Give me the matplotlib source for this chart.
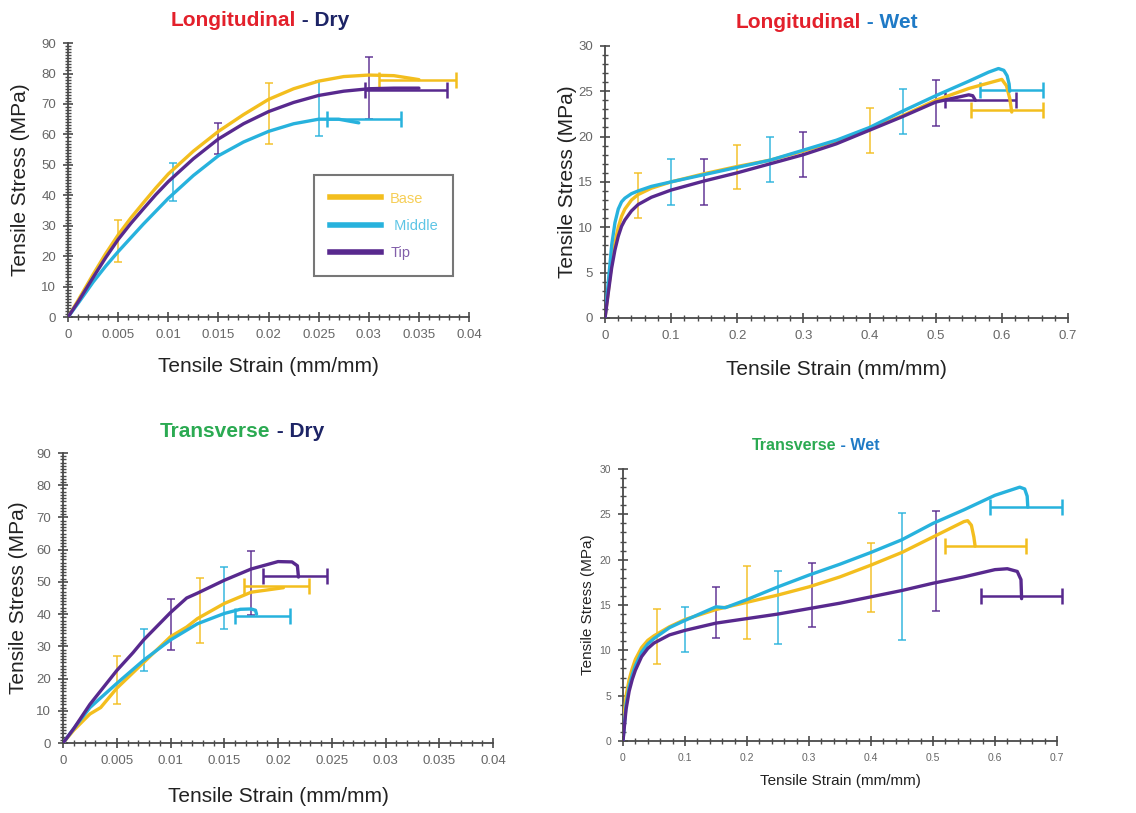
import numpy as np
import matplotlib
matplotlib.use('Agg')
import matplotlib.pyplot as plt
from matplotlib.ticker import MultipleLocator

plt.rcParams['font.family'] = ['Liberation Sans', 'DejaVu Sans']

YELLOW = '#F3BE1E'
CYAN = '#27B2DD'
PURPLE = '#58298E'
RED = '#E3202B'
NAVY = '#1D2466'
GREEN = '#2BAA52'
BLUE = '#1F7AC6'
AXCOL = '#4a4a4a'

series_names = ['Base', ' Middle', 'Tip']
series_colors = [YELLOW, CYAN, PURPLE]

# ---- Longitudinal - Dry ----
ld_base_x = [0, 0.001, 0.0025, 0.00375, 0.005, 0.00625, 0.0075, 0.00875, 0.01, 0.0125, 0.015, 0.0175, 0.02, 0.0225, 0.025, 0.0275, 0.03, 0.0325, 0.035]
ld_base_y = [0, 5.5, 14, 20.8, 27, 32.5, 37.5, 42.4, 47, 54.5, 61, 66.5, 71.5, 75, 77.5, 79, 79.5, 79.3, 78]
ld_mid_x = [0, 0.001, 0.0025, 0.00375, 0.005, 0.0075, 0.01, 0.0125, 0.015, 0.0175, 0.02, 0.0225, 0.025, 0.027, 0.029]
ld_mid_y = [0, 4.5, 11.5, 16.7, 21.5, 30.5, 39, 46.5, 53, 57.5, 61, 63.5, 65, 65, 63.8]
ld_tip_x = [0, 0.001, 0.0025, 0.00375, 0.005, 0.00625, 0.0075, 0.00875, 0.01, 0.0125, 0.015, 0.0175, 0.02, 0.0225, 0.025, 0.0275, 0.03, 0.0325, 0.035]
ld_tip_y = [0, 5, 13, 19.5, 25.5, 30.7, 35.5, 40.2, 44.5, 52, 58.5, 63.5, 67.5, 70.5, 72.8, 74.2, 75, 75.2, 75.2]
ld_vbars = [[(0.005, 18, 32), (0.02, 57, 77)],
            [(0.0105, 38, 50.5), (0.025, 59.5, 77.5)],
            [(0.015, 53.5, 63.8), (0.03, 65, 85.3)]]
ld_hbars = [(78, 0.0310, 0.0387), (65, 0.0258, 0.0332), (74.5, 0.0296, 0.0378)]

# ---- Longitudinal - Wet ----
lw_base_x = [0, 0.005, 0.01, 0.015, 0.02, 0.025, 0.03, 0.04, 0.05, 0.07, 0.1, 0.15, 0.2, 0.25, 0.3, 0.35, 0.4, 0.45, 0.5, 0.55, 0.58, 0.6, 0.607, 0.612, 0.615]
lw_base_y = [0, 3, 6, 8.3, 10, 11.2, 12, 13, 13.6, 14.3, 15, 15.9, 16.7, 17.4, 18.4, 19.5, 20.8, 22.3, 24, 25.3, 25.9, 26.3, 25.6, 24.2, 22.7]
lw_mid_x = [0, 0.005, 0.01, 0.015, 0.02, 0.025, 0.03, 0.04, 0.05, 0.07, 0.1, 0.15, 0.2, 0.25, 0.3, 0.35, 0.4, 0.45, 0.5, 0.55, 0.58, 0.595, 0.603, 0.608, 0.611, 0.612]
lw_mid_y = [0, 4, 8, 10.5, 12, 12.8, 13.2, 13.7, 14, 14.5, 15, 15.8, 16.6, 17.4, 18.5, 19.6, 21, 22.8, 24.5, 26.1, 27.1, 27.5, 27.3, 26.7, 25.8, 25]
lw_tip_x = [0, 0.005, 0.01, 0.015, 0.02, 0.025, 0.03, 0.04, 0.05, 0.07, 0.1, 0.15, 0.2, 0.25, 0.3, 0.35, 0.4, 0.45, 0.5, 0.55, 0.556, 0.56]
lw_tip_y = [0, 2.8, 5.5, 7.5, 9, 10.1, 10.8, 11.8, 12.5, 13.3, 14.1, 15.1, 16, 17, 18, 19.2, 20.7, 22.2, 23.8, 24.6, 24.5, 24]
lw_vbars = [[(0.05, 11, 16), (0.2, 14.2, 19.1), (0.4, 18.2, 23.2)],
            [(0.1, 12.4, 17.5), (0.25, 15, 19.9), (0.45, 20.3, 25.2)],
            [(0.15, 12.5, 17.5), (0.3, 15.5, 20.5), (0.5, 21.2, 26.2)]]
lw_hbars = [(22.9, 0.554, 0.662), (25.1, 0.567, 0.663), (24.0, 0.514, 0.622)]

# ---- Transverse - Dry ----
td_base_x = [0, 0.001, 0.0025, 0.0035, 0.005, 0.0075, 0.01, 0.0115, 0.0125, 0.015, 0.0175, 0.0205]
td_base_y = [0, 4, 9, 11, 17, 25, 33, 36, 38.6, 43.3, 46.8, 48.2]
td_mid_x = [0, 0.001, 0.0025, 0.005, 0.0075, 0.01, 0.0125, 0.015, 0.0165, 0.0175, 0.0179, 0.018]
td_mid_y = [0, 4.5, 11, 18.5, 25.7, 32, 37, 40.2, 41.5, 41.6, 41.2, 40]
td_tip_x = [0, 0.001, 0.0025, 0.005, 0.0065, 0.0075, 0.01, 0.0115, 0.0125, 0.015, 0.0175, 0.02, 0.0213, 0.0218, 0.0219]
td_tip_y = [0, 4.5, 12, 22.5, 28, 32, 40.5, 45, 46.5, 50.5, 54, 56.3, 56.2, 55, 51.5]
td_vbars = [[(0.005, 12, 27), (0.0127, 31, 51.2)],
            [(0.0075, 22.3, 35.3), (0.015, 35.5, 54.5)],
            [(0.01, 29, 44.7), (0.0175, 39.7, 59.7)]]
td_hbars = [(48.8, 0.0168, 0.0229), (39.3, 0.0160, 0.0211), (51.7, 0.0186, 0.0246)]

# ---- Transverse - Wet ----
tw_base_x = [0, 0.005, 0.01, 0.015, 0.02, 0.03, 0.04, 0.05, 0.075, 0.1, 0.15, 0.2, 0.25, 0.3, 0.35, 0.4, 0.45, 0.5, 0.55, 0.556, 0.562, 0.566, 0.568]
tw_base_y = [1.5, 5, 6.8, 8, 9, 10.3, 11.1, 11.6, 12.6, 13.4, 14.5, 15.3, 16.1, 17, 18.1, 19.4, 20.8, 22.5, 24.2, 24.3, 23.8, 22.5, 21.5]
tw_mid_x = [0, 0.005, 0.01, 0.015, 0.02, 0.03, 0.04, 0.05, 0.075, 0.1, 0.15, 0.165, 0.2, 0.25, 0.3, 0.35, 0.4, 0.45, 0.5, 0.55, 0.6, 0.64, 0.648, 0.652, 0.653]
tw_mid_y = [0, 4, 6, 7.3, 8.3, 9.8, 10.7, 11.3, 12.5, 13.3, 14.8, 14.7, 15.6, 17, 18.3, 19.5, 20.8, 22.2, 24, 25.5, 27.1, 28, 27.8, 27, 25.8]
tw_tip_x = [0, 0.005, 0.01, 0.015, 0.02, 0.03, 0.04, 0.05, 0.075, 0.1, 0.15, 0.2, 0.25, 0.3, 0.35, 0.4, 0.45, 0.5, 0.55, 0.6, 0.62, 0.636, 0.642, 0.643]
tw_tip_y = [0, 3.5, 5.5, 6.8, 7.8, 9.3, 10.2, 10.8, 11.7, 12.2, 13, 13.5, 14, 14.6, 15.2, 15.9, 16.6, 17.4, 18.1, 18.9, 19, 18.7, 17.8, 15.7]
tw_vbars = [[(0.055, 8.5, 14.6), (0.2, 11.2, 19.3), (0.4, 14.2, 21.8)],
            [(0.1, 9.8, 14.8), (0.25, 10.7, 18.8), (0.45, 11.1, 25.2)],
            [(0.15, 11.4, 17), (0.305, 12.6, 19.6), (0.505, 14.3, 25.4)]]
tw_hbars = [(21.5, 0.520, 0.650), (25.8, 0.592, 0.708), (16.0, 0.577, 0.708)]

strain_ticks_dry = [0, 0.005, 0.01, 0.015, 0.02, 0.025, 0.03, 0.035, 0.04]
strain_labels_dry = ['0', '0.005', '0.01', '0.015', '0.02', '0.025', '0.03', '0.035', '0.04']
strain_ticks_wet = [0, 0.1, 0.2, 0.3, 0.4, 0.5, 0.6, 0.7]
strain_labels_wet = ['0', '0.1', '0.2', '0.3', '0.4', '0.5', '0.6', '0.7']
stress_ticks_dry = [0, 10, 20, 30, 40, 50, 60, 70, 80, 90]
stress_ticks_wet = [0, 5, 10, 15, 20, 25, 30]

panels = [
    dict(rect=[0.0599, 0.610, 0.353, 0.337], curves=[(ld_base_x, ld_base_y), (ld_mid_x, ld_mid_y), (ld_tip_x, ld_tip_y)],
         vbars=ld_vbars, hbars=ld_hbars, xt=strain_ticks_dry, xl=strain_labels_dry, yt=stress_ticks_dry,
         xminor=0.001, yminor=1, title=('Longitudinal', RED, ' - Dry', NAVY), tpos=(260, 20), tsize=15,
         lsize=15, ticksize=9.5, xlc=-0.146, ylc=-0.095),
    dict(rect=[0.5326, 0.609, 0.4075, 0.3346], curves=[(lw_base_x, lw_base_y), (lw_mid_x, lw_mid_y), (lw_tip_x, lw_tip_y)],
         vbars=lw_vbars, hbars=lw_hbars, xt=strain_ticks_wet, xl=strain_labels_wet, yt=stress_ticks_wet,
         xminor=0.02, yminor=1, title=('Longitudinal', RED, ' - Wet', BLUE), tpos=(827, 22), tsize=15,
         lsize=15, ticksize=9.5, xlc=-0.154, ylc=-0.06),
    dict(rect=[0.0555, 0.0861, 0.3785, 0.3567], curves=[(td_base_x, td_base_y), (td_mid_x, td_mid_y), (td_tip_x, td_tip_y)],
         vbars=td_vbars, hbars=td_hbars, xt=strain_ticks_dry, xl=strain_labels_dry, yt=stress_ticks_dry,
         xminor=0.001, yminor=1, title=('Transverse', GREEN, ' - Dry', NAVY), tpos=(242, 431), tsize=15,
         lsize=15, ticksize=9.5, xlc=-0.152, ylc=-0.081),
    dict(rect=[0.5484, 0.0886, 0.382, 0.3345], curves=[(tw_base_x, tw_base_y), (tw_mid_x, tw_mid_y), (tw_tip_x, tw_tip_y)],
         vbars=tw_vbars, hbars=tw_hbars, xt=strain_ticks_wet, xl=strain_labels_wet, yt=stress_ticks_wet,
         xminor=0.02, yminor=1, title=('Transverse', GREEN, ' - Wet', BLUE), tpos=(816, 445), tsize=11.5,
         lsize=11, ticksize=7.5, xlc=-0.121, ylc=-0.065),
]

W, H = 1136, 813
fig = plt.figure(figsize=(W / 100, H / 100), dpi=100)
renderer = fig.canvas.get_renderer()


def two_tone_title(px, py, left, lcol, right, rcol, size):
    t1 = fig.text(0, 0, left, color=lcol, fontsize=size, fontweight='bold', va='center')
    t2 = fig.text(0, 0, right, color=rcol, fontsize=size, fontweight='bold', va='center')
    w1 = t1.get_window_extent(renderer).width
    w2 = t2.get_window_extent(renderer).width
    x0 = px - (w1 + w2) / 2
    y = 1 - py / H
    t1.set_position((x0 / W, y))
    t2.set_position(((x0 + w1) / W, y))


def unclip(container):
    for art in container.get_children():
        art.set_clip_on(False)


axes = []
for p in panels:
    ax = fig.add_axes(p['rect'])
    axes.append(ax)
    for (x, y), c in zip(p['curves'], series_colors):
        ax.plot(x, y, color=c, lw=2.4, solid_capstyle='round', solid_joinstyle='round', zorder=3)
    for bars, c in zip(p['vbars'], series_colors):
        bx = [b[0] for b in bars]
        lo = np.array([b[1] for b in bars])
        hi = np.array([b[2] for b in bars])
        eb = ax.errorbar(bx, (lo + hi) / 2, yerr=(hi - lo) / 2, fmt='none', ecolor=c,
                         elinewidth=1.2, capsize=3, capthick=1.2, alpha=0.85, zorder=2)
        unclip(eb)
    for (hy, xlo, xhi), c in zip(p['hbars'], series_colors):
        eb = ax.errorbar([(xlo + xhi) / 2], [hy], xerr=[(xhi - xlo) / 2], fmt='none', ecolor=c,
                         elinewidth=1.8, capsize=6, capthick=1.8, zorder=2)
        unclip(eb)
    ax.set_xlim(p['xt'][0], p['xt'][-1])
    ax.set_ylim(p['yt'][0], p['yt'][-1])
    ax.set_xticks(p['xt'])
    ax.set_xticklabels(p['xl'])
    ax.set_yticks(p['yt'])
    ax.xaxis.set_minor_locator(MultipleLocator(p['xminor']))
    ax.yaxis.set_minor_locator(MultipleLocator(p['yminor']))
    for s in ['top', 'right']:
        ax.spines[s].set_visible(False)
    for s in ['left', 'bottom']:
        ax.spines[s].set_color(AXCOL)
        ax.spines[s].set_linewidth(1.3)
    ax.tick_params(which='major', direction='inout', length=7, width=1.2, color=AXCOL,
                   labelsize=p['ticksize'], labelcolor='#666666', pad=5)
    ax.tick_params(which='minor', direction='inout', length=4.5, width=1.0, color=AXCOL)
    ax.set_xlabel('Tensile Strain (mm/mm)', fontsize=p['lsize'], color='#222222')
    ax.set_ylabel('Tensile Stress (MPa)', fontsize=p['lsize'], color='#222222')
    ax.xaxis.set_label_coords(0.5, p['xlc'])
    ax.yaxis.set_label_coords(p['ylc'], 0.5)
    ax.set_facecolor('none')
    l, lc, r, rc = p['title']
    two_tone_title(p['tpos'][0], p['tpos'][1], l, lc, r, rc, p['tsize'])

# legend only in the first panel
handles = [plt.Line2D([], [], color=c, lw=4) for c in series_colors]
leg = axes[0].legend(handles, series_names, loc='lower left', bbox_to_anchor=(0.596, 0.124, 0.382, 0.376),
                     mode='expand', fontsize=10.5, frameon=True, fancybox=False, handlelength=3.5,
                     borderpad=1.1, labelspacing=0.9, handletextpad=0.6)
leg.get_frame().set_edgecolor('#555555')
leg.get_frame().set_linewidth(1.5)
for txt, c in zip(leg.get_texts(), series_colors):
    txt.set_color(c)
    txt.set_alpha(0.75)

fig.savefig('out.png', dpi=100)
